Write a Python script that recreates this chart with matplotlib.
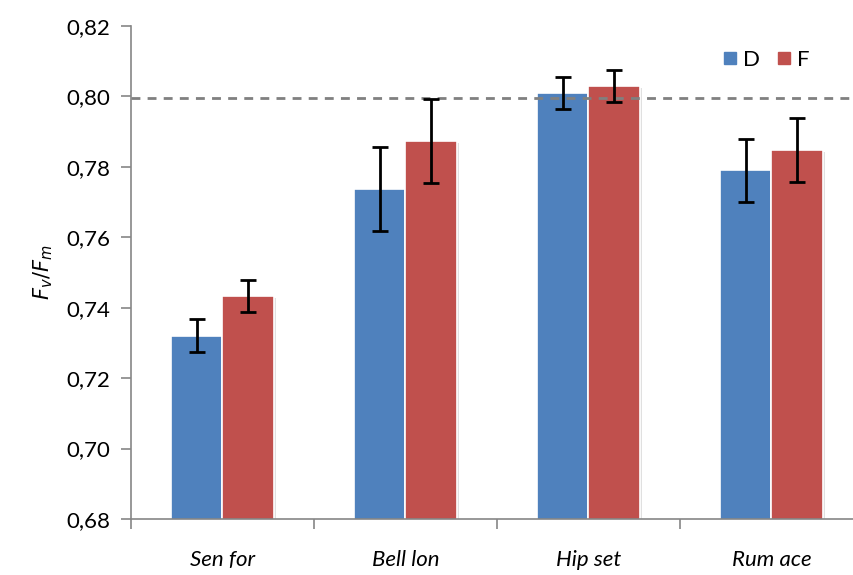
import matplotlib
matplotlib.use("Agg")
import matplotlib.pyplot as plt
import matplotlib.patheffects as pe
from matplotlib.ticker import FixedLocator, FuncFormatter
from matplotlib.lines import Line2D
import numpy as np

# Data
categories = ["Sen for", "Bell lon", "Hip set", "Rum ace"]
series_names = ["D", "F"]
values_D = [0.7320, 0.7736, 0.8010, 0.7790]
values_F = [0.7434, 0.7874, 0.8030, 0.7848]
errors_D = [0.0047, 0.0119, 0.0045, 0.0089]
errors_F = [0.0045, 0.0119, 0.0045, 0.0090]
reference_level = 0.7996
y_ticks = [0.68, 0.70, 0.72, 0.74, 0.76, 0.78, 0.80, 0.82]

blue = "#4F81BD"
red = "#C0504D"
axis_gray = "#868686"

plt.rcParams["font.family"] = ["Lato", "DejaVu Sans"]

fig = plt.figure(figsize=(8.54, 5.75), dpi=100)
ax = fig.add_axes([131 / 854, 1 - 519 / 575, 732 / 854, 493 / 575])

x = np.arange(len(categories))
width = 0.28
shadow = [pe.SimplePatchShadow(offset=(1.5, -1.5), shadow_rgbFace="#000000", alpha=0.12), pe.Normal()]

ax.bar(x - width / 2, values_D, width, color=blue, edgecolor="white", linewidth=1.2,
       path_effects=shadow, zorder=2)
ax.bar(x + width / 2, values_F, width, color=red, edgecolor="white", linewidth=1.2,
       path_effects=shadow, zorder=2)

ax.errorbar(x - width / 2, values_D, yerr=errors_D, fmt="none", ecolor="black",
            elinewidth=2, capsize=5.5, capthick=2, zorder=4)
ax.errorbar(x + width / 2, values_F, yerr=errors_F, fmt="none", ecolor="black",
            elinewidth=2, capsize=5.5, capthick=2, zorder=4)

ax.axhline(reference_level, color="#808080", linewidth=2, linestyle=(0, (3.2, 2.6)), zorder=3)

ax.set_xlim(-0.5, len(categories) - 0.5)
ax.set_ylim(y_ticks[0], y_ticks[-1])
ax.yaxis.set_major_locator(FixedLocator(y_ticks))
ax.yaxis.set_major_formatter(FuncFormatter(lambda v, p: f"{v:.2f}".replace(".", ",")))

ax.set_xticks(x)
ax.set_xticklabels(categories, fontstyle="italic", fontsize=16)
ax.tick_params(axis="x", which="major", length=0, pad=22)
ax.set_xticks(np.arange(len(categories) + 1) - 0.5, minor=True)
ax.tick_params(axis="x", which="minor", length=7, width=1.2, color=axis_gray)
ax.tick_params(axis="y", length=7, width=1.2, color=axis_gray, labelsize=16, pad=8)

for side in ("top", "right"):
    ax.spines[side].set_visible(False)
for side in ("left", "bottom"):
    ax.spines[side].set_color(axis_gray)
    ax.spines[side].set_linewidth(1.2)

ax.set_ylabel("$F_v/F_m$", fontsize=15, labelpad=8)

handles = [Line2D([], [], marker="s", linestyle="none", markersize=9, color=blue, label="D"),
           Line2D([], [], marker="s", linestyle="none", markersize=9, color=red, label="F")]
ax.legend(handles=handles, ncol=2, frameon=False, fontsize=16, loc="center",
          bbox_to_anchor=((766 - 131) / 732, 1 - (60 - 26) / 493),
          handlelength=0.7, handletextpad=0.25, columnspacing=0.7, borderaxespad=0,
          borderpad=0)

fig.savefig("out.png", dpi=100)
